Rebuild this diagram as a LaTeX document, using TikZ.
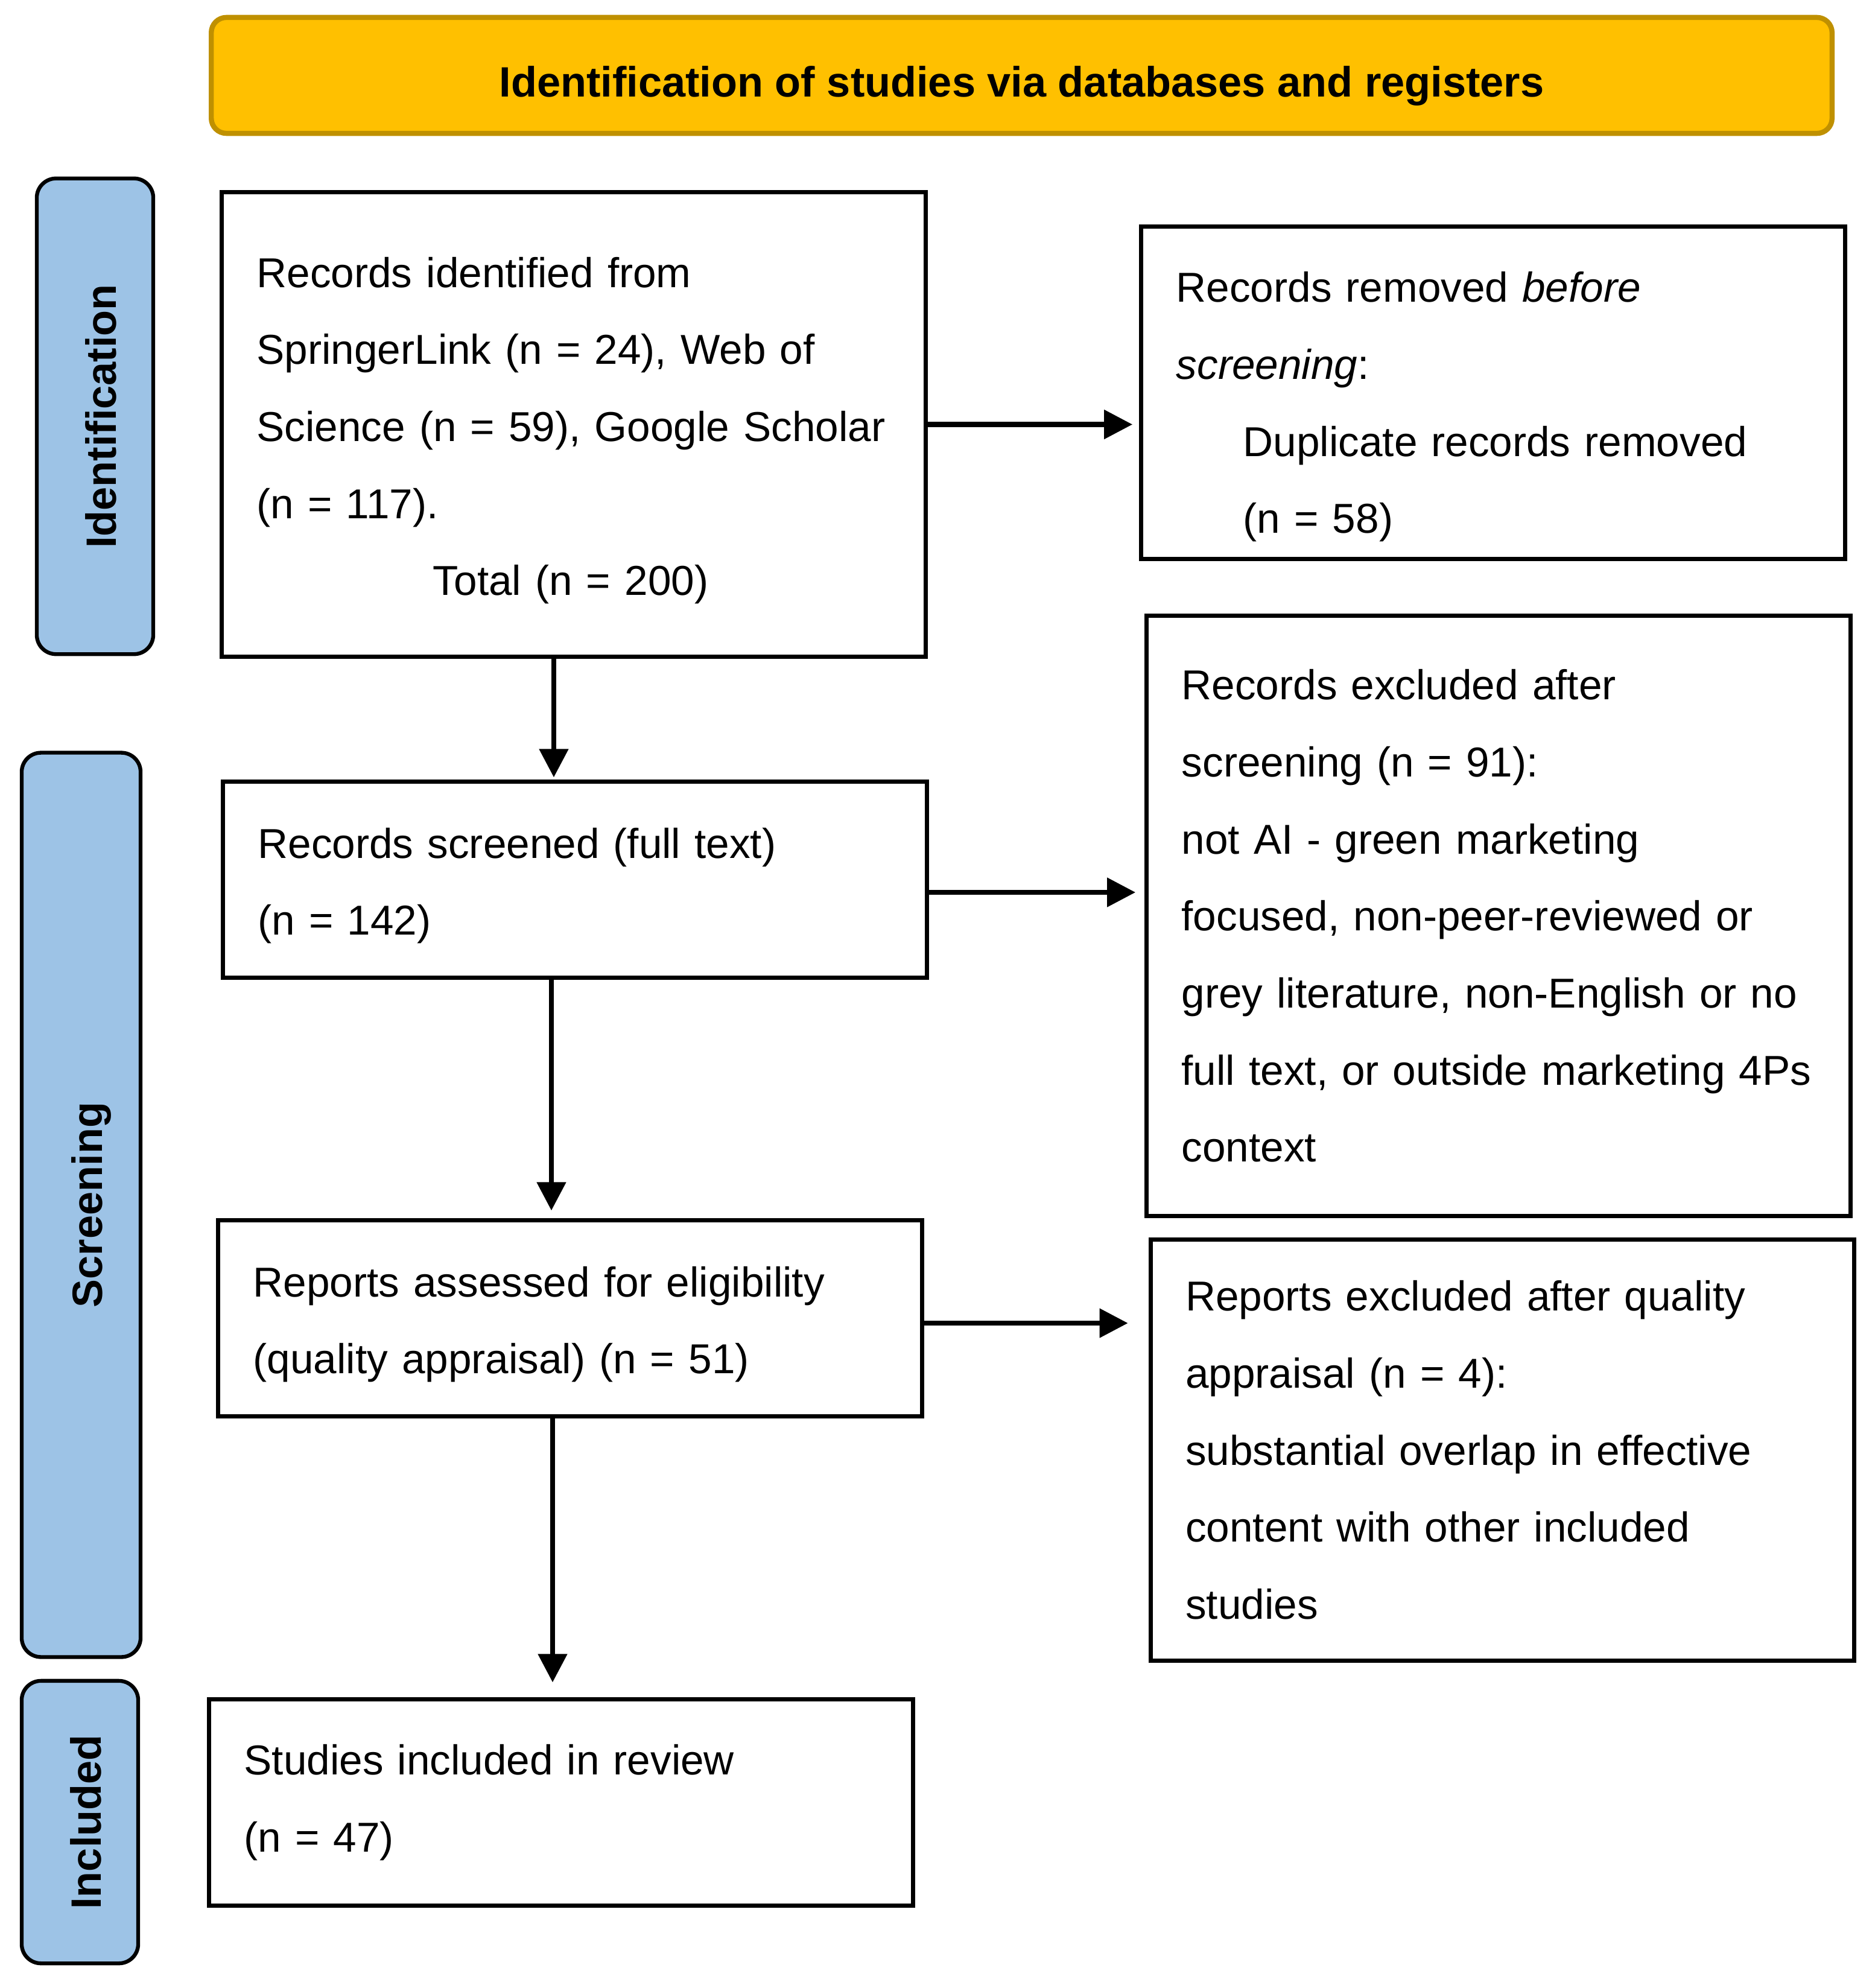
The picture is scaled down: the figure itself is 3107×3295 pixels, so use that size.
\documentclass[tikz,border=0pt]{standalone}
\usepackage{fontspec}
\setmainfont{Liberation Sans}
\usepackage{tikz}
\usetikzlibrary{arrows.meta}
\definecolor{hdryellow}{HTML}{FFC000}
\definecolor{hdrborder}{HTML}{BF9000}
\definecolor{phaseblue}{HTML}{9DC3E6}

\begin{document}
\begin{tikzpicture}[
    x=0.01cm, y=-0.01cm,
    header/.style={draw=hdrborder, fill=hdryellow, line width=2.4pt, rounded corners=0.25cm,
                   minimum width=26.85cm, minimum height=1.92cm, text height=20pt, text depth=0pt,
                   font=\fontsize{20}{24}\selectfont\bfseries},
    phase/.style={draw, fill=phaseblue, line width=1.8pt, rounded corners=0.32cm, rotate=90,
                  text height=20pt, text depth=0pt, font=\fontsize{20}{24}\selectfont\bfseries},
    box/.style={draw, line width=2pt, inner xsep=0.58cm, text width=10.5cm, align=left,
                minimum width=11.66cm, font=\fontsize{19.7}{36.3}\selectfont},
    topgap/.style={execute at begin node={\rule{0pt}{#1}}},
    arr/.style={-{Triangle[length=0.47cm, width=0.47cm]}, line width=2.3pt},
]
\useasboundingbox (0,0) rectangle (3107,3295);

\node[header] (head) at (1693.5,125) {Identification of studies via databases and registers};

\node[phase, minimum width=7.88cm, minimum height=1.93cm] (idphase) at (157.5,690) {Identification};
\node[phase, minimum width=14.98cm, minimum height=1.97cm] (scrphase) at (134.5,1997) {Screening};
\node[phase, minimum width=4.68cm, minimum height=1.93cm] (incphase) at (132.5,3020) {Included};

\node[box, topgap=20pt, minimum height=7.69cm] (ident) at (951,703.5) {Records identified from\\
SpringerLink (n = 24), Web of\\
Science (n = 59), Google Scholar\\
(n = 117).\\
\hspace*{2.92cm}Total (n = 200)};
\node[box, topgap=27.5pt, minimum height=5.5cm] (removed) at (2475,651) {Records removed \textit{before}\\
\textit{screening}:\\
\hspace*{1.11cm}Duplicate records removed\\
\hspace*{1.11cm}(n = 58)};
\node[box, topgap=20pt, minimum height=3.24cm] (screened) at (953,1458) {Records screened (full text)\\
(n = 142)};
\node[box, minimum height=9.94cm] (excluded) at (2484,1518) {Records excluded after\\
screening (n = 91):\\
not AI - green marketing\\
focused, non-peer-reviewed or\\
grey literature, non-English or no\\
full text, or outside marketing 4Ps\\
context};
\node[box, topgap=20pt, minimum height=3.24cm] (assessed) at (945,2185) {Reports assessed for eligibility\\
(quality appraisal) (n = 51)};
\node[box, minimum height=6.97cm] (quality) at (2490.5,2403.5) {Reports excluded after quality\\
appraisal (n = 4):\\
substantial overlap in effective\\
content with other included\\
studies};
\node[box, minimum height=3.41cm] (included) at (930,2987.5) {Studies included in review\\
(n = 47)};

\draw[arr, shorten >=0.11cm] (ident.east) -- (ident.east -| removed.west);
\draw[arr, shorten >=0.04cm] ([xshift=-0.33cm]ident.south) -- ([xshift=-0.33cm]ident.south |- screened.north);
\draw[arr, shorten >=0.15cm] ([yshift=-0.21cm]screened.east) -- ([yshift=-0.21cm]screened.east -| excluded.west);
\draw[arr, shorten >=0.13cm] ([xshift=-0.39cm]screened.south) -- ([xshift=-0.39cm]screened.south |- assessed.north);
\draw[arr, shorten >=0.34cm] ([yshift=-0.08cm]assessed.east) -- ([yshift=-0.08cm]assessed.east -| quality.west);
\draw[arr, shorten >=0.25cm] ([xshift=-0.29cm]assessed.south) -- ([xshift=-0.29cm]assessed.south |- included.north);
\end{tikzpicture}
\end{document}
